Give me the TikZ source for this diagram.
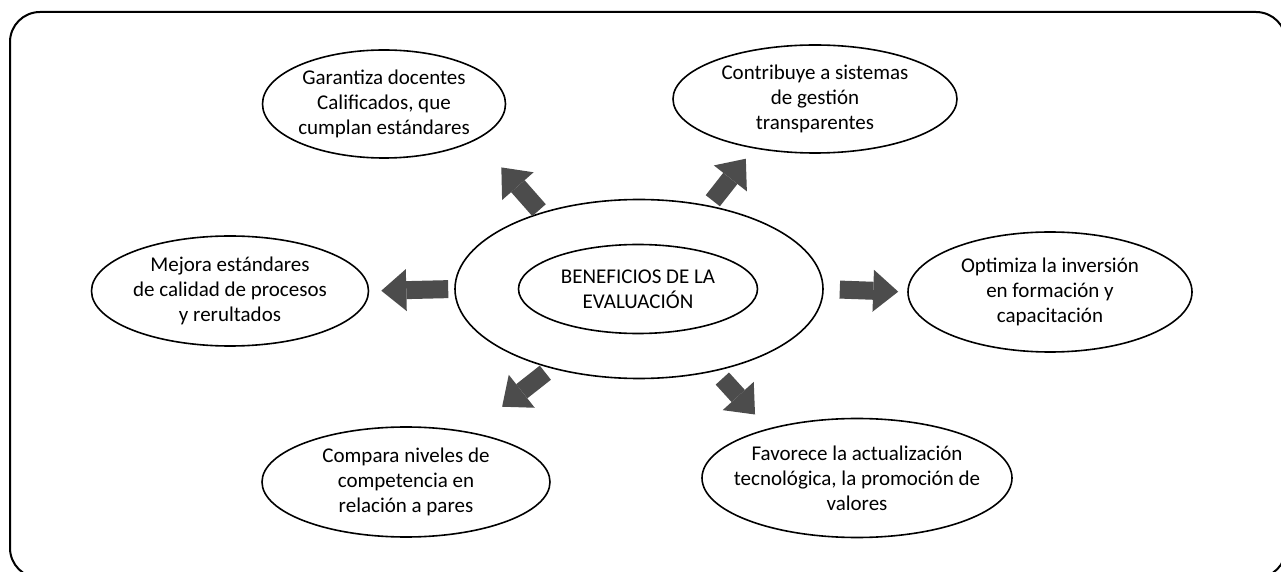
\documentclass[tikz,border=0pt]{standalone}
\usepackage{fontspec}
\setmainfont{Carlito}
\usetikzlibrary{shapes.geometric,arrows.meta,positioning}

\begin{document}
\begin{tikzpicture}[x=0.5pt,y=-0.5pt,
idea/.style={ellipse,draw,line width=0.8pt,inner xsep=-30pt,inner ysep=0pt,
        align=center,font=\fontsize{10.5}{12.5}\selectfont},
bigarrow/.style={draw=black!70,line width=9pt,
        -{Triangle[length=12.5pt,width=21pt,line width=0pt,color=black!70,fill=black!70]}},
]
\useasboundingbox (0,0) rectangle (1281,572);
\clip (0,0) rectangle (1281,572);
\draw[line width=1pt,rounded corners=15pt] (10,12) rectangle (1286,578);

% centro
\node[idea,minimum width=184pt,minimum height=89.5pt] (outer) at (639,289) {};
\node[idea,minimum width=119.5pt,minimum height=44.5pt] (inner) at (638,289)
    {BENEFICIOS DE LA\\EVALUACIÓN};

% beneficios
\node[idea,minimum width=121.5pt,minimum height=54pt] (garantiza) at (384,104)
    {Garantiza docentes\\Calificados, que\\cumplan estándares};
\node[idea,minimum width=142pt,minimum height=54pt] (contribuye) at (815,99)
    {Contribuye a sistemas\\de gestión\\transparentes};
\node[idea,minimum width=138.5pt,minimum height=55pt] (mejora) at (230,291)
    {Mejora estándares\\de calidad de procesos\\y rerultados};
\node[idea,minimum width=142pt,minimum height=60pt] (optimiza) at (1050,292)
    {Optimiza la inversión\\en formación y\\capacitación};
\node[idea,minimum width=144pt,minimum height=55pt] (compara) at (406,482)
    {Compara niveles de\\competencia en\\relación a pares};
\node[idea,minimum width=155pt,minimum height=59.5pt] (favorece) at (857,478)
    {Favorece la actualización\\tecnológica, la promoción de\\valores};

\path (outer.142) edge[bigarrow,shorten <=1.5pt,shorten >=18.5pt] (garantiza.339)
      (outer.50) edge[bigarrow,shorten <=3pt,shorten >=6.5pt] (contribuye.219)
      (outer.180) edge[bigarrow,shorten <=3pt,shorten >=6pt] (mejora.0)
      (outer.0) edge[bigarrow,shorten <=8pt,shorten >=4.5pt] (optimiza.180)
      (outer.222) edge[bigarrow,shorten <=3.5pt,shorten >=20.4pt] (compara.38)
      (outer.313) edge[bigarrow,shorten <=5pt,shorten >=9.5pt] (favorece.151);
\end{tikzpicture}
\end{document}
